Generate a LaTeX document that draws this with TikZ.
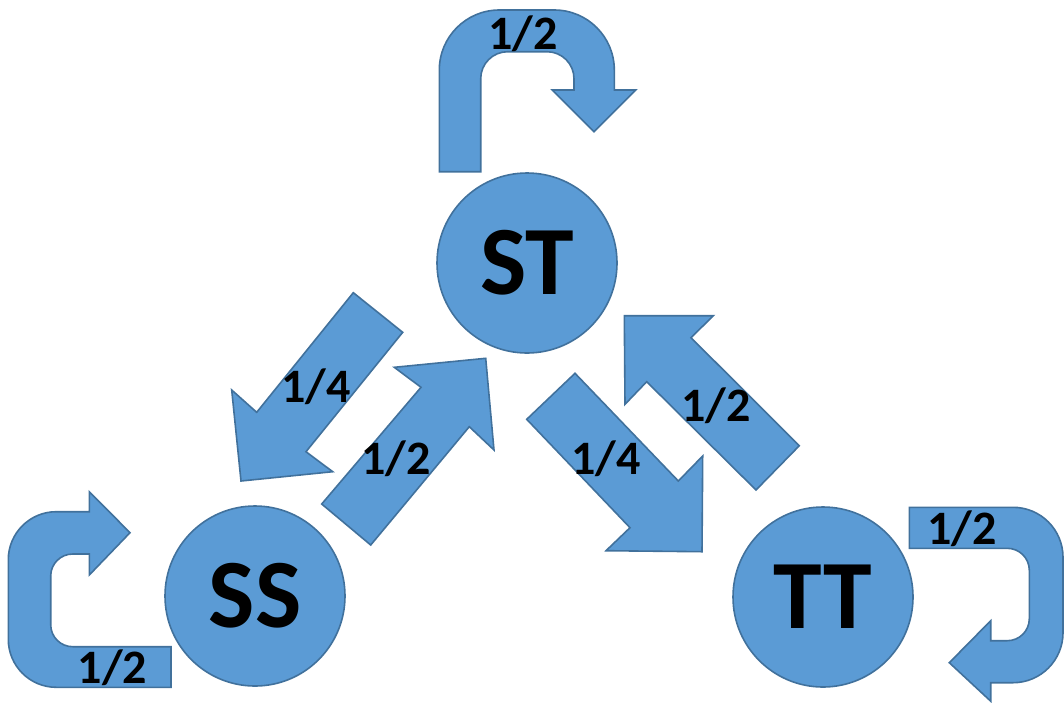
\documentclass[tikz,border=0pt]{standalone}
\usepackage{fontspec}
\setmainfont{Carlito}
\definecolor{pfill}{HTML}{5B9BD5}
\definecolor{pline}{HTML}{41719C}
\begin{document}
\begin{tikzpicture}[x=1pt,y=-1pt,
  shapebox/.style={fill=pfill,draw=pline,line width=1.6pt,line join=miter},
  state/.style={circle,fill=pfill,draw=pline,line width=1.6pt,minimum size=180pt,inner sep=0pt,
    font=\fontsize{98}{98}\selectfont\bfseries},
  prob/.style={font=\fontsize{48}{48}\selectfont\bfseries,inner sep=0pt}]
\useasboundingbox (0,0) rectangle (1064,702);
% states
\node[state] (ST) at (527,263) {ST};
\node[state] (SS) at (255,596) {SS};
\node[state] (TT) at (823,597) {TT};
% top self loop
\draw[shapebox] (439.3,171.7) -- (439.3,70) arc (180:270:60) -- (554.3,10) arc (270:360:60)
  -- (614.3,90) -- (635.7,90) -- (594,131.7) -- (552.3,90) -- (574,90) -- (574,78.7)
  arc (0:-90:27) -- (507.7,51.7) arc (270:180:27) -- (480.7,171.7) -- cycle;
% SS self loop
\draw[shapebox] (171,687.3) -- (56.3,687.3) arc (90:180:48) -- (8.3,559.7) arc (180:270:48)
  -- (89.3,511.7) -- (89.3,491.7) -- (130,532.7) -- (89.3,575) -- (89.3,554) -- (72.7,554)
  arc (270:180:22) -- (50.7,624.7) arc (180:90:22) -- (171,646.7) -- cycle;
% TT self loop
\draw[shapebox] (909.3,507.3) -- (1013,507.3) arc (270:360:50) -- (1063,632.7) arc (0:90:50)
  -- (990.7,682.7) -- (990.7,701.2) -- (949.3,662.7) -- (990.7,620.7) -- (990.7,640.7)
  -- (1007.3,640.7) arc (90:0:22) -- (1029.3,570.3) arc (0:-90:22) -- (909.3,548.3) -- cycle;
% ST -> SS
\draw[shapebox] (353.3,292.7) -- (402.7,332.3) -- (306,451.7) -- (332.7,471.7) -- (241,481)
  -- (231.7,390) -- (256.7,412.3) -- cycle;
% SS -> ST
\draw[shapebox] (321.7,504) -- (421,387.3) -- (394.3,367.3) -- (485.7,358.3) -- (494,450)
  -- (469.3,426.7) -- (370.7,545) -- cycle;
% ST -> TT
\draw[shapebox] (575,373.3) -- (678.3,481) -- (702.7,456) -- (702,551.7) -- (606,550.7)
  -- (630,527.7) -- (526.7,419.3) -- cycle;
% TT -> ST
\draw[shapebox] (624.3,315.7) -- (713.3,315.7) -- (691,337.7) -- (799.3,445.7) -- (756,490)
  -- (646.7,381.7) -- (625,404.3) -- cycle;
% labels
\node[prob] (l1) at (523,34) {1/2};
\node[prob] (l2) at (112.5,668) {1/2};
\node[prob] (l3) at (962,529) {1/2};
\node[prob] (l4) at (316,387) {1/4};
\node[prob] (l5) at (396,459) {1/2};
\node[prob] (l6) at (606,459) {1/4};
\node[prob] (l7) at (716,406) {1/2};
\end{tikzpicture}
\end{document}
